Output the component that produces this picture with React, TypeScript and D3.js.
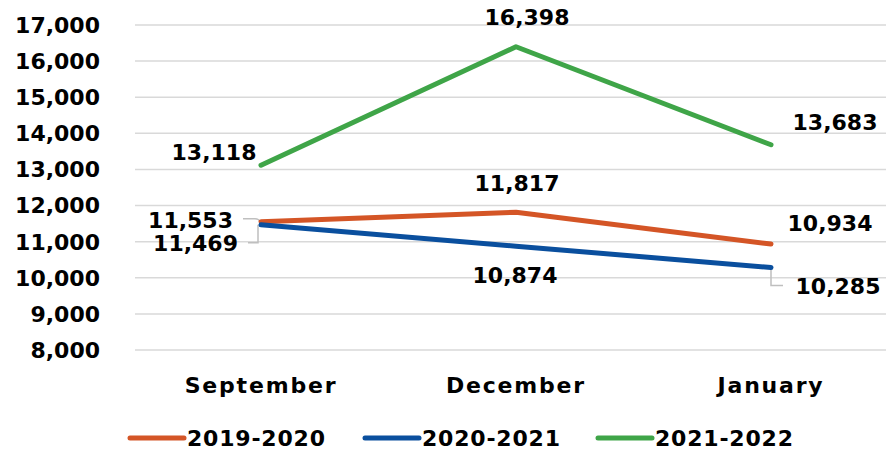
import React from "react";
import * as d3 from "d3";

const categories = ["September", "December", "January"];
const seriesNames = ["2019-2020", "2020-2021", "2021-2022"];
const values2019 = [11553, 11817, 10934];
const values2020 = [11469, 10874, 10285];
const values2021 = [13118, 16398, 13683];
const yTicks = [8000, 9000, 10000, 11000, 12000, 13000, 14000, 15000, 16000, 17000];

const W = 886;
const H = 452;
const colors = ["#D45526", "#0A4F9E", "#3FA548"];
const FONT = "'DejaVu Sans', sans-serif";

// label offsets (dx, dy, anchor) relative to each point
const labelOffsets = [
  [[-28, -2, "end"], [1, -29, "middle"], [59, -21, "middle"]],
  [[-23, 18, "end"], [-1, 29, "middle"], [67, 19, "middle"]],
  [[-47, -13, "middle"], [11, -30, "middle"], [64, -23, "middle"]],
];

export default function App() {
  const x = d3.scalePoint<string>().domain(categories).range([261, 771]);
  const y = d3.scaleLinear().domain([8000, 17000]).range([350, 25]);
  const fmt = d3.format(",");
  const allSeries = [values2019, values2020, values2021];
  const line = d3
    .line<number>()
    .x((_, i) => x(categories[i]) as number)
    .y((d) => y(d));

  const legendX = [130, 365, 598];

  const p0 = (si: number, i: number) => [x(categories[i]) as number, y(allSeries[si][i])];

  return (
    <div style={{ position: "fixed", left: 0, top: 0 }}>
      <svg width={W} height={H} style={{ display: "block", background: "#fff" }}>
        {yTicks.map((t) => (
          <g key={t}>
            <line x1={135} x2={886} y1={y(t)} y2={y(t)} stroke="#D9D9D9" strokeWidth={1.5} />
            <text
              x={100}
              y={y(t)}
              dy="0.36em"
              textAnchor="end"
              fontFamily={FONT}
              fontWeight="bold"
              fontSize={22}
              fill="#000"
            >
              {fmt(t)}
            </text>
          </g>
        ))}
        {categories.map((c) => (
          <text
            key={c}
            x={x(c) as number}
            y={385}
            dy="0.36em"
            textAnchor="middle"
            fontFamily={FONT}
            fontWeight="bold"
            fontSize={22}
            letterSpacing={1.8}
            fill="#000"
          >
            {c}
          </text>
        ))}
        {/* leader lines */}
        {(() => {
          const [ax, ay] = p0(0, 0);
          const [bx, by] = p0(1, 0);
          const [cx, cy] = p0(1, 2);
          return (
            <g fill="none" stroke="#BFBFBF" strokeWidth={1.5}>
              <path d={`M${ax - 18},${ay - 3} H${ax - 6} Q${ax - 2},${ay - 3} ${ax - 1},${ay}`} />
              <path d={`M${bx - 13},${by + 18} H${bx - 3} V${by}`} />
              <path d={`M${cx},${cy} V${cy + 18} H${cx + 12}`} />
            </g>
          );
        })()}
        {allSeries.map((vals, si) => (
          <path
            key={si}
            d={line(vals) as string}
            fill="none"
            stroke={colors[si]}
            strokeWidth={5}
            strokeLinecap="round"
            strokeLinejoin="round"
          />
        ))}
        {allSeries.map((vals, si) =>
          vals.map((v, i) => {
            const [px, py] = p0(si, i);
            const [dx, dy, anchor] = labelOffsets[si][i] as [number, number, string];
            return (
              <text
                key={`${si}-${i}`}
                x={px + dx}
                y={py + dy}
                dy="0.36em"
                textAnchor={anchor}
                fontFamily={FONT}
                fontWeight="bold"
                fontSize={22}
                fill="#000"
              >
                {fmt(v)}
              </text>
            );
          })
        )}
        {seriesNames.map((s, i) => (
          <g key={s}>
            <line
              x1={legendX[i]}
              x2={legendX[i] + 54}
              y1={438}
              y2={438}
              stroke={colors[i]}
              strokeWidth={5}
              strokeLinecap="round"
            />
            <text
              x={legendX[i] + 57}
              y={438}
              dy="0.36em"
              fontFamily={FONT}
              fontWeight="bold"
              fontSize={22}
              letterSpacing={0.8}
              fill="#000"
            >
              {s}
            </text>
          </g>
        ))}
      </svg>
    </div>
  );
}
